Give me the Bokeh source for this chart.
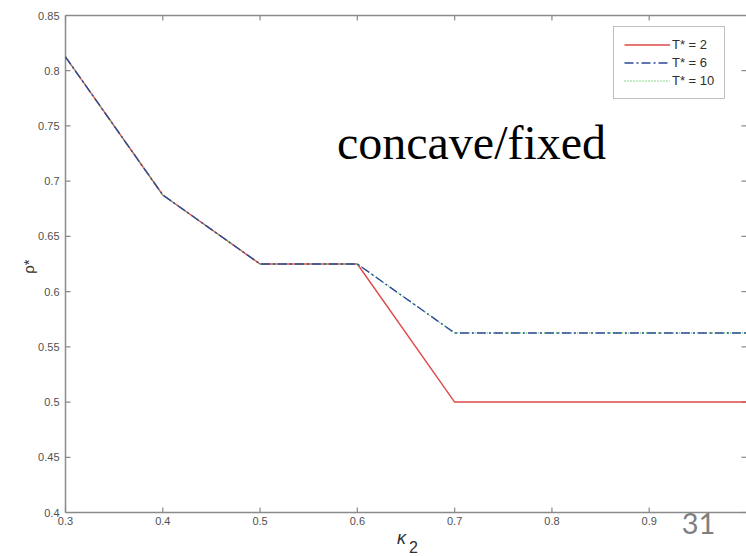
import math
from bokeh.plotting import figure
from bokeh.models import Range1d, Label, Legend, LegendItem
from bokeh.core.properties import value
from bokeh.embed import file_html
from bokeh.resources import INLINE

# ---- data ----
k2 = [0.3, 0.4, 0.5, 0.6, 0.7, 0.8, 0.9, 1.0]
rho_T2 = [0.8125, 0.6875, 0.625, 0.625, 0.5, 0.5, 0.5, 0.5]
rho_T6 = [0.8125, 0.6875, 0.625, 0.625, 0.5625, 0.5625, 0.5625, 0.5625]
rho_T10 = [0.8125, 0.6875, 0.625, 0.625, 0.5625, 0.5625, 0.5625, 0.5625]
series_labels = ["T* = 2", "T* = 6", "T* = 10"]

x_ticks = [0.3, 0.4, 0.5, 0.6, 0.7, 0.8, 0.9]
x_tick_labels = ["0.3", "0.4", "0.5", "0.6", "0.7", "0.8", "0.9"]
y_ticks = [0.4, 0.45, 0.5, 0.55, 0.6, 0.65, 0.7, 0.75, 0.8, 0.85]
y_tick_labels = ["0.4", "0.45", "0.5", "0.55", "0.6", "0.65", "0.7", "0.75", "0.8", "0.85"]

x_min, x_max = 0.3, 1.0      # axes box limits
y_min, y_max = 0.4, 0.85

title_text = "concave/fixed"
slide_number = "31"

AX = "#8a8a8a"
TICKTXT = "#505050"
LBL = "#303030"

# frame covers the whole canvas; the axes box is drawn from the data limits
W, H = 746, 556
left_px, top_px, bottom_px = 65, 15, 44
sx = (W - left_px) / (x_max - x_min)
sy = (H - top_px - bottom_px) / (y_max - y_min)

p = figure(width=W, height=H, output_backend="svg", toolbar_location=None,
           x_range=Range1d(x_min - left_px / sx, x_max),
           y_range=Range1d(y_min - bottom_px / sy, y_max + top_px / sy),
           x_axis_location=None, y_axis_location=None,
           min_border=0, min_border_left=0, min_border_right=0,
           min_border_top=0, min_border_bottom=0)
p.xgrid.visible = False
p.ygrid.visible = False
p.outline_line_color = None
p.background_fill_color = "white"
p.border_fill_color = "white"

# axes box (left, bottom, top)
p.line([x_min, x_min], [y_min, y_max], line_color=AX, line_width=1.5)
p.line([x_min, x_max], [y_min, y_min], line_color=AX, line_width=1.5)
p.line([x_min, x_max], [y_max, y_max], line_color=AX, line_width=1.5)

# inward ticks
nx, ny = len(x_ticks), len(y_ticks)
p.ray(x=x_ticks, y=[y_min] * nx, length=5, length_units="screen",
      angle=math.pi / 2, line_color=AX, line_width=1.2)
p.ray(x=x_ticks, y=[y_max] * nx, length=5, length_units="screen",
      angle=-math.pi / 2, line_color=AX, line_width=1.2)
p.ray(x=[x_min] * ny, y=y_ticks, length=5, length_units="screen",
      angle=0, line_color=AX, line_width=1.2)
p.ray(x=[x_max] * ny, y=y_ticks, length=5, length_units="screen",
      angle=math.pi, line_color=AX, line_width=1.2)

# tick labels
p.text(x=x_ticks, y=[y_min] * nx, text=x_tick_labels, y_offset=4,
       text_align="center", text_baseline="top",
       text_font=value("Liberation Sans"), text_font_size="11px",
       text_color=TICKTXT)
p.text(x=[x_min] * ny, y=y_ticks, text=y_tick_labels, x_offset=-6,
       text_align="right", text_baseline="middle",
       text_font=value("Liberation Sans"), text_font_size="11px",
       text_color=TICKTXT)

# data lines
r2 = p.line(k2, rho_T2, line_color="#e04848", line_width=1.4)
r10 = p.line(k2, rho_T10, line_color="#66d066", line_width=1.4, line_dash="1 2")
r6 = p.line(k2, rho_T6, line_color="#2b4a9a", line_width=1.4, line_dash="9 3 2 3")

legend = Legend(items=[LegendItem(label=series_labels[0], renderers=[r2]),
                       LegendItem(label=series_labels[1], renderers=[r6]),
                       LegendItem(label=series_labels[2], renderers=[r10])],
                location=(613, 457), orientation="vertical",
                glyph_width=46, glyph_height=15, label_height=15,
                label_standoff=2, spacing=3, padding=10, margin=0,
                label_text_font="Liberation Sans", label_text_font_size="13px",
                label_text_color=LBL,
                border_line_color="#808080", border_line_width=1.2,
                background_fill_color="white", background_fill_alpha=1.0)
p.add_layout(legend)

# axis labels
p.add_layout(Label(x=x_min - 37 / sx, y=y_max - 251 / sy, text="ρ*",
                   angle=math.pi / 2, text_align="center", text_baseline="middle",
                   text_font="Liberation Sans", text_font_size="15px",
                   text_color=LBL))
p.add_layout(Label(x=x_min + 336 / sx, y=y_min - 25 / sy, text="κ",
                   text_align="center", text_baseline="middle",
                   text_font="Liberation Sans", text_font_style="italic",
                   text_font_size="18px", text_color=LBL))
p.add_layout(Label(x=x_min + 348 / sx, y=y_min - 34 / sy, text="2",
                   text_align="center", text_baseline="middle",
                   text_font="Liberation Sans", text_font_size="16px",
                   text_color=LBL))

# slide title and page number
p.add_layout(Label(x=x_min + 406 / sx, y=y_max - 127 / sy, text=title_text,
                   text_align="center", text_baseline="alphabetic",
                   text_font="Liberation Serif", text_font_size="48px",
                   text_color="black"))
p.add_layout(Label(x=x_min + 633 / sx, y=y_min - 11 / sy, text=slide_number,
                   text_align="center", text_baseline="alphabetic",
                   text_font="Lato", text_font_size="29px",
                   text_color="#7f7f7f"))

open("out.html", "w").write(file_html(p, INLINE))
